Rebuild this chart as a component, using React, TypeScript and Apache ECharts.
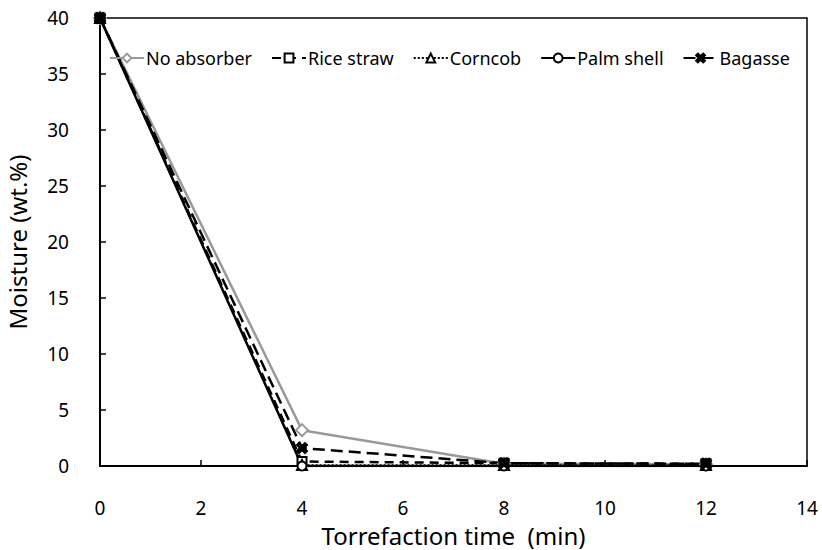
import React, { useEffect, useRef } from "react";
import * as echarts from "echarts";

const times = [0, 4, 8, 12];
const seriesNames = ["No absorber", "Rice straw", "Corncob", "Palm shell", "Bagasse"];
const noAbsorber = [40, 3.2, 0.2, 0.15];
const riceStraw = [40, 0.4, 0.25, 0.2];
const corncob = [40, 0.1, 0.1, 0.1];
const palmShell = [40, 0, 0, 0];
const bagasse = [40, 1.6, 0.25, 0.2];
const xTicks = { min: 0, max: 14, interval: 2 };
const yTicks = { min: 0, max: 40, interval: 5 };

const FONT = "Noto Sans";
const X_SYMBOL = "path://M0,2L2,0L5,3L8,0L10,2L7,5L10,8L8,10L5,7L2,10L0,8L3,5Z";

function pairs(vals: number[]) {
  return times.map((t, i) => [t, vals[i]]);
}

export default function App() {
  const ref = useRef<HTMLDivElement>(null);
  useEffect(() => {
    if (!ref.current) return;
    const chart = echarts.init(ref.current, null, { renderer: "svg" });
    const mk = (
      name: string,
      vals: number[],
      color: string,
      lineType: any,
      width: number,
      symbol: string,
      symbolSize: number,
      fill: string
    ) => ({
      name,
      type: "line",
      data: pairs(vals),
      symbol,
      symbolSize,
      showSymbol: true,
      lineStyle: { color, width, type: lineType },
      itemStyle: { color: fill, borderColor: color, borderWidth: 2 },
      emphasis: { disabled: true },
    });
    chart.setOption({
      animation: false,
      textStyle: { fontFamily: FONT },
      grid: {
        left: 100,
        right: 15,
        top: 18,
        bottom: 84,
        outerBoundsMode: "none",
        containLabel: false,
        show: true,
        borderColor: "#000",
        borderWidth: 1.5,
      },
      legend: {
        data: seriesNames,
        left: 104,
        top: 44,
        itemWidth: 34,
        itemHeight: 11,
        itemGap: 19,
        textStyle: { fontFamily: FONT, fontSize: 18, color: "#000", padding: [0, 0, 0, -3] },
      },
      xAxis: {
        type: "value",
        min: xTicks.min,
        max: xTicks.max,
        interval: xTicks.interval,
        name: "Torrefaction time  (min)",
        nameLocation: "middle",
        nameGap: 57,
        nameTextStyle: { fontFamily: FONT, fontSize: 24, color: "#000" },
        axisLine: { show: true, lineStyle: { color: "#000", width: 2 } },
        axisTick: { show: true, inside: true, length: 6, lineStyle: { color: "#000", width: 1.5 } },
        axisLabel: { fontFamily: FONT, fontSize: 19, color: "#000", margin: 32 },
        splitLine: { show: false },
      },
      yAxis: {
        type: "value",
        min: yTicks.min,
        max: yTicks.max,
        interval: yTicks.interval,
        name: "Moisture (wt.%)",
        nameLocation: "middle",
        nameGap: 71,
        nameTextStyle: { fontFamily: FONT, fontSize: 24, color: "#000" },
        axisLine: { show: true, lineStyle: { color: "#000", width: 2 } },
        axisTick: { show: true, inside: true, length: 6, lineStyle: { color: "#000", width: 1.5 } },
        axisLabel: { fontFamily: FONT, fontSize: 19, color: "#000", margin: 31 },
        splitLine: { show: false },
      },
      series: [
        mk("No absorber", noAbsorber, "#999999", "solid", 2.5, "diamond", 12, "#ffffff"),
        mk("Rice straw", riceStraw, "#000000", [9, 6], 2.5, "rect", 9, "#ffffff"),
        mk("Corncob", corncob, "#000000", [2, 2], 1.5, "triangle", 10, "#ffffff"),
        mk("Palm shell", palmShell, "#000000", "solid", 2.5, "circle", 9, "#ffffff"),
        mk("Bagasse", bagasse, "#000000", [12, 6], 2.5, X_SYMBOL, 10, "#000000"),
      ],
    });
    return () => chart.dispose();
  }, []);
  return (
    <div
      ref={ref}
      style={{ position: "fixed", left: 0, top: 0, width: 822, height: 550, background: "#fff" }}
    />
  );
}
